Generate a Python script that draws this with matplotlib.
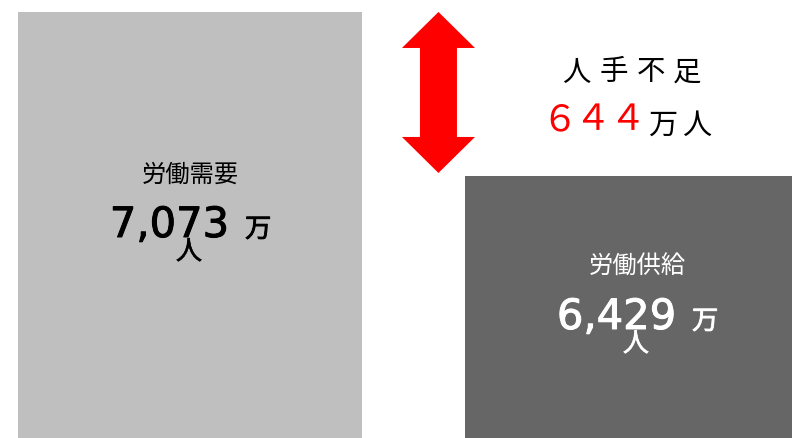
import matplotlib
matplotlib.use('Agg')
import matplotlib.pyplot as plt
import matplotlib.patheffects as pe
from matplotlib.patches import Polygon

# labour demand vs supply (unit: 10,000 people)
labels = ['労働需要', '労働供給']
values = [7073, 6429]
unit_parts = ['万', '人']
gap_title = '人手不足'

bar_colors = ['#bfbfbf', '#666666']
text_colors = ['black', 'white']
RED = '#ff0000'

CJK = ['Noto Sans CJK JP', 'DejaVu Sans']
NUM = ['DejaVu Sans']

W, H = 792, 438
y_base, y_top = 5400, 7120
x_lo, x_hi = -0.425, 1.347

fig = plt.figure(figsize=(W / 100, H / 100), dpi=100)
ax = fig.add_axes([0, 0, 1, 1])
ax.set_xlim(x_lo, x_hi)
ax.set_ylim(y_base, y_top)
ax.axis('off')

xs = list(range(len(values)))
ax.bar(xs, [v - y_base for v in values], bottom=y_base, width=0.77,
       color=bar_colors, linewidth=0)


def put(s, x, y, dx, dy, **kw):
    # offsets given in pixels, y downwards
    return ax.annotate(s, (x, y), xytext=(dx * 0.72, -dy * 0.72),
                       textcoords='offset points', **kw)


def thicken(t, c, lw):
    t.set_path_effects([pe.Stroke(linewidth=lw, foreground=c), pe.Normal()])


# vertical nudge of the text block inside each bar (px)
nudge = [12, 22]
for i, v in enumerate(values):
    mid = (y_base + v) / 2
    c = text_colors[i]
    n = nudge[i]
    put(labels[i], i, mid, 0, n - 62, ha='center', va='center',
        fontsize=17.5, color=c, family=CJK)
    t = put(f'{v:,}', i, mid, 39, n, ha='right', va='baseline',
            fontsize=30, color=c, family=NUM)
    thicken(t, c, 0.7)
    t = put(unit_parts[0], i, mid, 55, n, ha='left', va='baseline',
            fontsize=19, color=c, family=CJK)
    thicken(t, c, 0.6)
    t = put(unit_parts[1], i, mid, -1, n + 15, ha='center', va='center',
            fontsize=19, color=c, family=CJK)
    thicken(t, c, 0.4)

# double-headed arrow spanning the gap between the two bars
ux = (x_hi - x_lo) / W
uy = (y_top - y_base) / H
xa = 0.556
top = values[0]
bot = values[1] + 3 * uy
hl, hw, sw = 36 * uy, 36.5 * ux, 18.5 * ux
pts = [(xa, top), (xa + hw, top - hl), (xa + sw, top - hl),
       (xa + sw, bot + hl), (xa + hw, bot + hl), (xa, bot),
       (xa - hw, bot + hl), (xa - sw, bot + hl), (xa - sw, top - hl),
       (xa - hw, top - hl)]
ax.add_patch(Polygon(pts, closed=True, facecolor=RED, edgecolor='none'))

# shortage caption, spaced out character by character
for k, ch in enumerate(gap_title):
    x = 632 + (k - (len(gap_title) - 1) / 2) * 37
    fig.text(x / W, 1 - 72.5 / H, ch, ha='center', va='center',
             fontsize=20.5, color='black', family=CJK)

# full-width digits for the gap value
gap = ''.join(chr(ord(d) + 0xFEE0) for d in str(values[0] - values[1]))
line2 = [(ch, RED, 26, 130) for ch in gap] + \
        [(ch, 'black', 21, 133.5) for ch in unit_parts]
for k, (ch, c, fs, base) in enumerate(line2):
    x = 628 + (k - (len(line2) - 1) / 2) * 34.5
    fig.text(x / W, 1 - base / H, ch, ha='center', va='baseline',
             fontsize=fs, color=c, family=CJK)

fig.savefig('out.png', dpi=100)
plt.close(fig)
